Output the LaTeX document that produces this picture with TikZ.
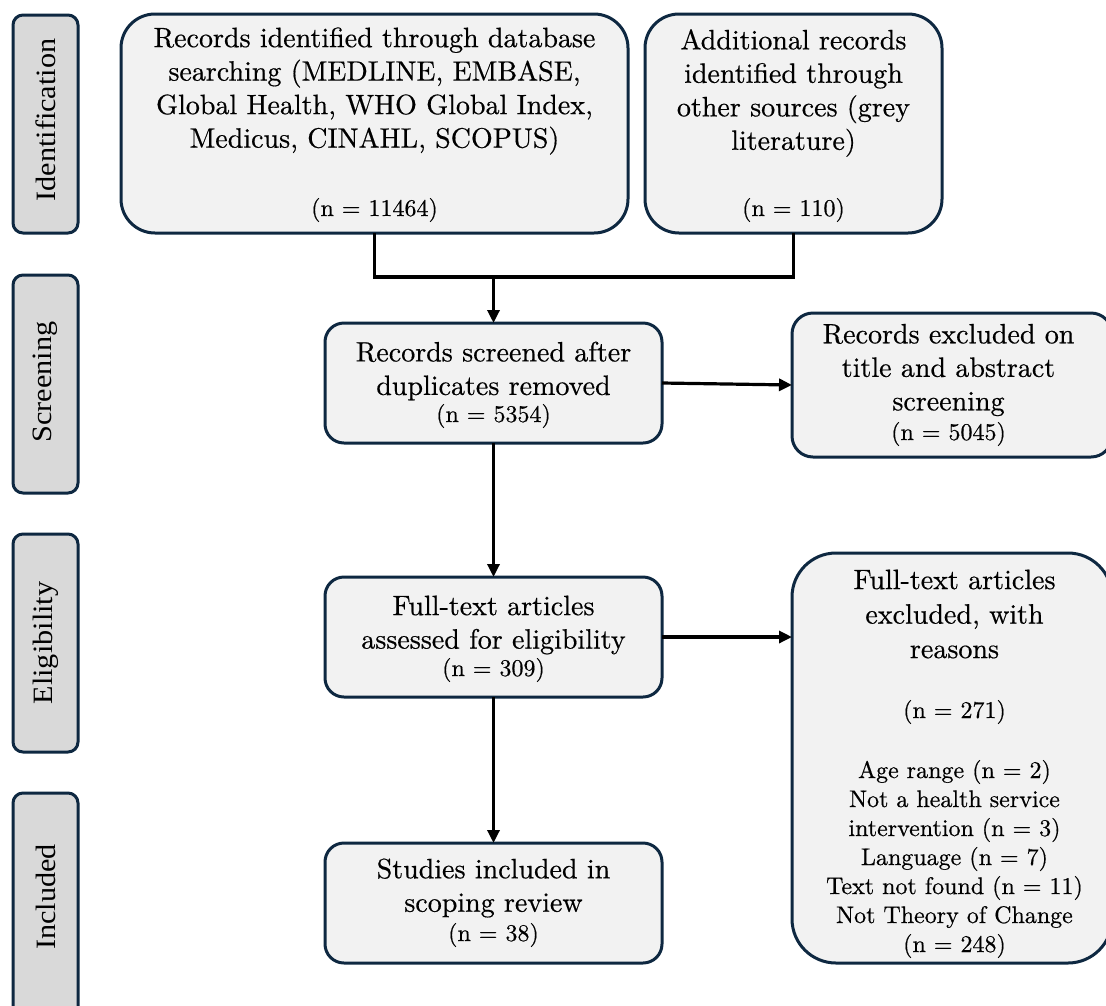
\documentclass[tikz,border=0pt]{standalone}
\usepackage{graphicx}
\usepackage{fontspec}
\setmainfont{lmroman10-regular}[Extension=.otf, RawFeature={embolden=0.5}]
\newfontfamily\stagefont{Liberation Serif}
\usetikzlibrary{arrows.meta}
\definecolor{edge}{HTML}{0E2841}
\definecolor{boxfill}{HTML}{F2F2F2}
\definecolor{stagefill}{HTML}{D9D9D9}
\tikzset{
  box/.style={draw=edge, line width=3pt, fill=boxfill, inner sep=0pt, outer sep=0pt},
  stagebox/.style={draw=edge, line width=3pt, fill=stagefill, rounded corners=10pt,
    inner sep=0pt, outer sep=0pt, minimum width=65pt},
  bigtxt/.style={align=center, font=\fontsize{28}{33.5}\selectfont, inner sep=0pt},
  smalltxt/.style={align=center, font=\fontsize{24}{29}\selectfont, inner sep=0pt},
  stagetxt/.style={rotate=90, font=\stagefont\fontsize{28}{34}\selectfont, inner sep=0pt},
  flow/.style={line width=3.2pt, -{Triangle[length=13pt,width=12pt]}},
  link/.style={line width=3.2pt},
}
\newcommand{\stagelabel}[1]{\scalebox{1.08}[1]{#1}}
\begin{document}
\begin{tikzpicture}[x=1pt,y=-1pt]
  \useasboundingbox (0,0) rectangle (1106,1005);
  \clip (0,0) rectangle (1106,1005);
  \fill[white] (0,0) rectangle (1106,1005);

  % stage column
  \node[stagebox, minimum height=218pt] (s1) at (45.5,124) {};
  \node[stagebox, minimum height=218pt] (s2) at (45.5,384) {};
  \node[stagebox, minimum height=218pt] (s3) at (45.5,643) {};
  \node[stagebox, minimum height=230pt] (s4) at (45.5,908) {};
  \node[stagetxt] (t1) at (45.5,120) {\stagelabel{Identification}};
  \node[stagetxt] (t2) at (45.5,382) {\stagelabel{Screening}};
  \node[stagetxt] (t3) at (45.5,643) {\stagelabel{Eligibility}};
  \node[stagetxt] (t4) at (45.5,897) {\stagelabel{Included}};

  % flow boxes
  \node[box, rounded corners=34pt, minimum width=507pt, minimum height=219pt] (A) at (374.5,123.5) {};
  \node[box, rounded corners=34pt, minimum width=297pt, minimum height=219pt] (B) at (793.5,123.5) {};
  \node[box, rounded corners=19pt, minimum width=337pt, minimum height=120pt] (C) at (493.5,383) {};
  \node[box, rounded corners=21pt, minimum width=320pt, minimum height=144pt] (D) at (952,385) {};
  \node[box, rounded corners=19pt, minimum width=337pt, minimum height=120pt] (E) at (493.5,637) {};
  \node[box, rounded corners=44pt, minimum width=320pt, minimum height=410pt] (F) at (952,758) {};
  \node[box, rounded corners=19pt, minimum width=337pt, minimum height=120pt] (G) at (493.5,903) {};

  % box texts
  \node[bigtxt] (Aa) at (374.5,91) {Records identified through database\\searching (MEDLINE, EMBASE,\\Global Health, WHO Global Index,\\Medicus, CINAHL, SCOPUS)};
  \node[smalltxt] (An) at (374.5,210) {(n = 11464)};
  \node[bigtxt] (Ba) at (793.5,93) {Additional records\\identified through\\other sources (grey\\literature)};
  \node[smalltxt] (Bn) at (793.5,210) {(n = 110)};
  \node[bigtxt] (Ca) at (493.5,371) {Records screened after\\duplicates removed};
  \node[smalltxt] (Cn) at (493.5,416) {(n = 5354)};
  \node[bigtxt] (Da) at (948.5,370) {Records excluded on\\title and abstract\\screening};
  \node[smalltxt] (Dn) at (948.5,434) {(n = 5045)};
  \node[bigtxt] (Ea) at (493.5,625) {Full-text articles\\assessed for eligibility};
  \node[smalltxt] (En) at (493.5,670) {(n = 309)};
  \node[bigtxt, font=\fontsize{28}{34.5}\selectfont] (Fa) at (954.5,614) {Full-text articles\\excluded, with\\reasons};
  \node[smalltxt] (Fn) at (954.5,712) {(n = 271)};
  \node[smalltxt] (Fr) at (954.5,859) {Age range (n = 2)\\Not a health service\\intervention (n = 3)\\Language (n = 7)\\Text not found (n = 11)\\Not Theory of Change\\(n = 248)};
  \node[bigtxt] (Ga) at (493.5,888) {Studies included in\\scoping review};
  \node[smalltxt] (Gn) at (493.5,935) {(n = 38)};

  % connectors
  \coordinate (J) at (493.5,277);
  \draw[link] (A.south) |- (J) -| (B.south);
  \draw[flow] (J) -- (C.north);
  \draw[flow] (C.east) -- (D.west);
  \draw[flow] (C.south) -- (E.north);
  \draw[flow] (E.east) -- (E.east -| F.west);
  \draw[flow] (E.south) -- (G.north);
\end{tikzpicture}
\end{document}
